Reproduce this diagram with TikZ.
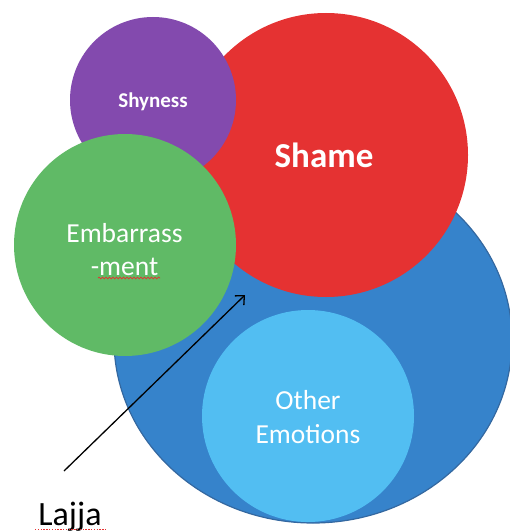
\documentclass[tikz,border=0pt]{standalone}
\usepackage{fontspec}
\setmainfont{Carlito}
\usetikzlibrary{arrows.meta,decorations.pathmorphing,shapes.geometric}
\definecolor{cpurple}{RGB}{131,74,174}
\definecolor{cred}{RGB}{229,50,50}
\definecolor{cgreen}{RGB}{96,186,102}
\definecolor{cblue}{RGB}{54,131,203}
\definecolor{cblueedge}{RGB}{52,104,160}
\definecolor{clight}{RGB}{82,190,242}
\begin{document}
\begin{tikzpicture}[x=1pt,y=-1pt,
  blob/.style={circle,inner sep=0pt,draw=none},
  lbl/.style={anchor=base,text=white,inner sep=0pt,align=center}]
\useasboundingbox (0,0) rectangle (509,532);
% big blue ellipse
\node[ellipse,draw=cblueedge,line width=1.2pt,fill=cblue,minimum width=398pt,minimum height=366pt,inner sep=0pt] (other) at (313,340) {};
\node[blob,fill=clight,minimum size=212pt] (otherin) at (308,416) {};
\node[blob,fill=cred,minimum size=284pt] (shame) at (326,155) {};
\node[blob,fill=cpurple,minimum size=166pt] (shy) at (153,100) {};
\node[blob,fill=cgreen,minimum size=222pt] (emb) at (125,245) {};
% labels
\node[lbl,font=\fontsize{21}{25}\selectfont\bfseries] (tshy) at (153,107) {Shyness};
\node[lbl,font=\fontsize{35}{40}\selectfont\bfseries] (tshame) at (324,167) {Shame};
\node[lbl,font=\fontsize{27.5}{33}\selectfont] (temb1) at (124.5,242) {Embarrass};
\node[lbl,font=\fontsize{27.5}{33}\selectfont] (temb2) at (124.5,275) {-ment};
\node[lbl,font=\fontsize{27.5}{33}\selectfont] (toth1) at (308,409) {Other};
\node[lbl,font=\fontsize{27.5}{33}\selectfont] (toth2) at (308,443) {Emotions};
\node[anchor=base,inner sep=0pt,font=\fontsize{34}{40}\selectfont] (lajja) at (70,525) {Lajja};
% spell-check underlines
\coordinate (w1) at (98,278);
\coordinate (w2) at (160,278);
\draw[cred,line width=0.7pt,decorate,decoration={snake,amplitude=0.9pt,segment length=3.5pt}] (w1) -- (w2);
\coordinate (d1) at (35,529.5);
\coordinate (d2) at (106,529.5);
\draw[cred,line width=1.4pt,dash pattern=on 1.4pt off 1.4pt] (d1) -- (d2);
% arrow
\coordinate (atail) at (64,471);
\coordinate (ahead) at (245,295);
\draw[line width=1.3pt,-{Straight Barb[length=7pt,width=13pt]}] (atail) -- (ahead);
\end{tikzpicture}
\end{document}
